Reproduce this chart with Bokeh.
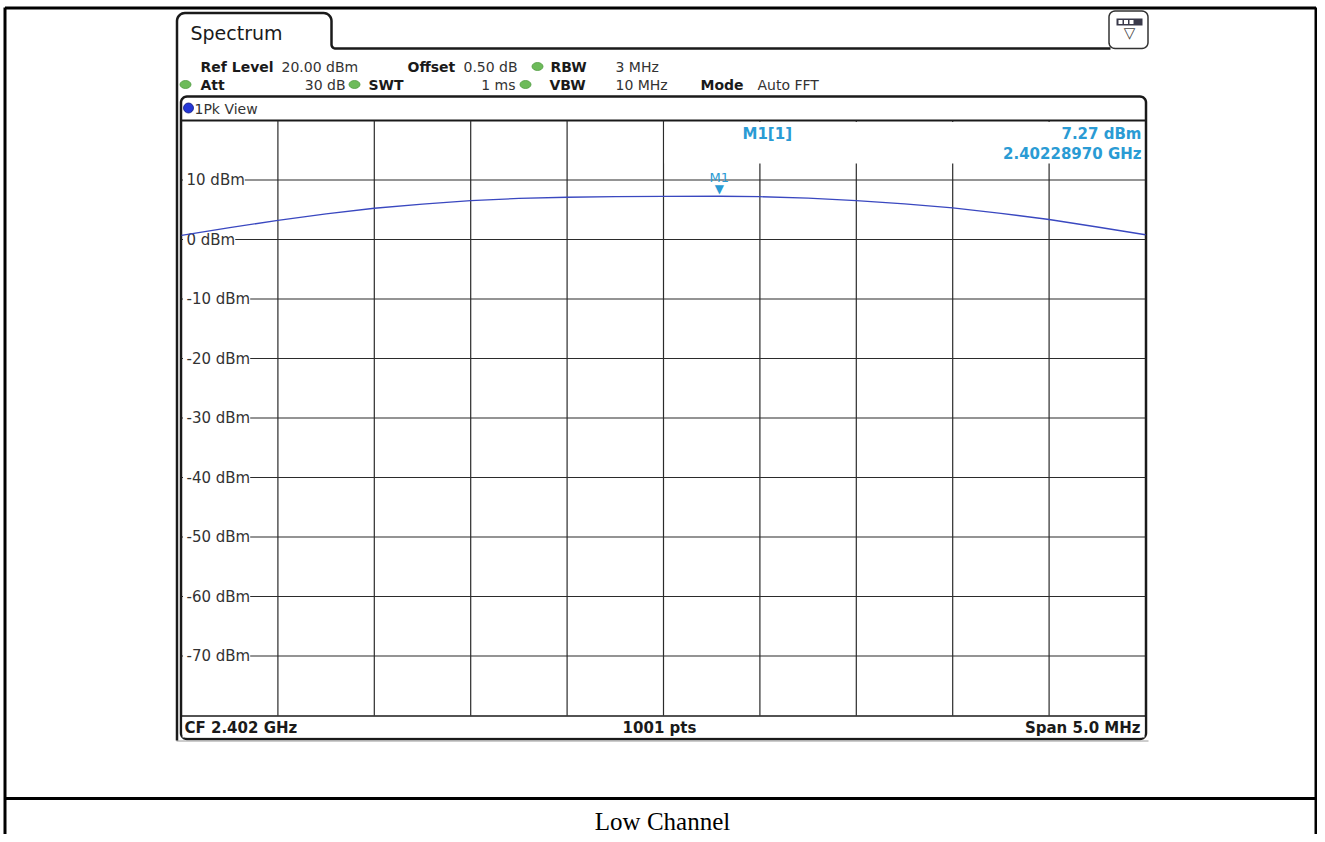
import numpy as np
from bokeh.plotting import figure
from bokeh.models import Range1d
from bokeh.embed import file_html
from bokeh.resources import INLINE
from bokeh.core.properties import value

# ---------------- data ----------------
freq_ghz = [2.39950, 2.39975, 2.40000, 2.40025, 2.40050, 2.40075, 2.40100,
            2.40125, 2.40150, 2.40175, 2.40200, 2.40228970, 2.40250, 2.40275,
            2.40300, 2.40325, 2.40350, 2.40375, 2.40400, 2.40425, 2.40450]
level_dbm = [0.7, 2.0, 3.2, 4.3, 5.25, 5.95, 6.55,
             6.9, 7.1, 7.2, 7.26, 7.27, 7.2, 6.95,
             6.55, 6.0, 5.3, 4.4, 3.36, 2.1, 0.8]
y_ticks = [10, 0, -10, -20, -30, -40, -50, -60, -70]
y_tick_labels = ["10 dBm", "0 dBm", "-10 dBm", "-20 dBm", "-30 dBm",
                 "-40 dBm", "-50 dBm", "-60 dBm", "-70 dBm"]
x_grid_ghz = [2.4000, 2.4005, 2.4010, 2.4015, 2.4020, 2.4025, 2.4030,
              2.4035, 2.4040]
f_start, f_stop = 2.3995, 2.4045
ref_level, bottom_level = 20, -80
marker_freq = 2.40228970
marker_level = 7.27

# ---------------- layout (image pixels) ----------------
W, H = 1317, 834
G_L, G_R, G_T, G_B = 181.0, 1145.0, 120.0, 715.0

gpp = (f_stop - f_start) / (G_R - G_L)
x_start = f_start - G_L * gpp
x_end = f_stop + (W - G_R) * gpp
dpp = (ref_level - bottom_level) / (G_B - G_T)
y_top = ref_level + G_T * dpp
y_bot = ref_level - (H - G_T) * dpp

p = figure(width=W, height=H, x_range=Range1d(x_start, x_end),
           y_range=Range1d(y_bot, y_top), output_backend="svg",
           toolbar_location=None, min_border=0,
           x_axis_location=None, y_axis_location=None)
p.grid.visible = False
p.outline_line_color = None
p.background_fill_color = "white"
p.border_fill_color = "white"
p.extra_x_ranges = {"px": Range1d(0, W)}
p.extra_y_ranges = {"py": Range1d(H, 0)}
PX = dict(x_range_name="px", y_range_name="py")

FONT = value("DejaVu Sans")
BLACK = "#1a1a1a"
MBLUE = "#2a9bd4"


def rounded(x0, y0, x1, y1, r, n=8):
    xs, ys = [], []
    corners = [(x1 - r, y0 + r, -90, 0), (x1 - r, y1 - r, 0, 90),
               (x0 + r, y1 - r, 90, 180), (x0 + r, y0 + r, 180, 270)]
    for cx, cy, a0, a1 in corners:
        for a in np.linspace(np.radians(a0), np.radians(a1), n):
            xs.append(cx + r * np.cos(a))
            ys.append(cy + r * np.sin(a))
    xs.append(xs[0]); ys.append(ys[0])
    return xs, ys


def arc(cx, cy, r, a0, a1, n=8):
    t = np.linspace(np.radians(a0), np.radians(a1), n)
    return list(cx + r * np.cos(t)), list(cy + r * np.sin(t))

# outer table border
p.multi_line(xs=[[4.5, 4.5], [1315.5, 1315.5], [4.5, 1315.5], [4.5, 1315.5]],
             ys=[[7, H], [7, H], [7.5, 7.5], [798, 798]],
             line_color="black", line_width=3, **PX)

# panel (1Pk View window)
px_, py_ = rounded(180.5, 96, 1145.5, 738.5, 6)
p.patch(px_, py_, fill_color="white", line_color=BLACK, line_width=2.5, **PX)
p.line([176, 1148], [740.5, 740.5], line_color="#9a9a9a", line_width=1, **PX)

# tab outline + header line
tx, ty = [176.5], [740]
ax, ay = arc(184.5, 20.5, 8, 180, 270); tx += ax; ty += ay
ax, ay = arc(323, 20.5, 8, 270, 360); tx += ax; ty += ay
ax, ay = arc(335, 44, 4, 180, 90); tx += ax; ty += ay
tx += [1110]; ty += [48]
p.line(tx, ty, line_color=BLACK, line_width=2.5, **PX)

# settings icon top-right
ix, iy = rounded(1108.5, 10.5, 1147.5, 48, 6)
p.patch(ix, iy, fill_color="white", line_color="#333333", line_width=1.5, **PX)
p.quad(left=[1116], right=[1142], top=[18], bottom=[25], fill_color="#3a3a4a",
       line_color=None, **PX)
p.quad(left=[1118, 1123.5, 1129], right=[1122, 1127.5, 1133], top=[19.5] * 3,
       bottom=[23.5] * 3, fill_color="white", line_color=None, **PX)
p.text(x=[1129], y=[32], text=["▽"], text_font=FONT, text_font_size="15px",
       text_align="center", text_baseline="middle", text_color="#444444", **PX)

# panel title bar / graticule top
p.line([180.5, 1145.5], [G_T, G_T], line_color=BLACK, line_width=1.8, **PX)

# gridlines (data coords)
p.segment(x0=x_grid_ghz, x1=x_grid_ghz, y0=[bottom_level] * len(x_grid_ghz),
          y1=[ref_level] * len(x_grid_ghz), line_color="#2b2b2b", line_width=1.2)
p.segment(x0=[f_start] * len(y_ticks), x1=[f_stop] * len(y_ticks), y0=y_ticks,
          y1=y_ticks, line_color="#2b2b2b", line_width=1.2)
# gap between the left border and each level label
p.segment(x0=[182.5] * len(y_ticks), x1=[187] * len(y_ticks), y0=y_ticks,
          y1=y_ticks, line_color="white", line_width=3, x_range_name="px")

# white box for marker info
p.quad(left=[664], right=[1143.5], top=[121.5], bottom=[163], fill_color="white",
       line_color=None, **PX)

# status bar
p.quad(left=[182], right=[1144], top=[716], bottom=[737], fill_color="white",
       line_color=None, **PX)
p.line([180.5, 1145.5], [715.5, 715.5], line_color=BLACK, line_width=1.5, **PX)

# y tick labels
p.text(x=[f_start] * len(y_ticks), y=y_ticks, text=y_tick_labels, x_offset=5,
       text_font=FONT, text_font_size="15px", text_color="#333333",
       text_baseline="middle", text_align="left", background_fill_color="white")

# trace
p.line(freq_ghz, level_dbm, line_color="#3a48c0", line_width=1.3)

# marker
p.text(x=[marker_freq], y=[marker_level], text=["▼"], text_font=FONT,
       text_font_size="12px", text_color=MBLUE, text_align="center",
       text_baseline="bottom", y_offset=0)
p.text(x=[marker_freq], y=[marker_level], text=["M1"], text_font=FONT,
       text_font_size="13px", text_color=MBLUE, text_align="center",
       text_baseline="middle", y_offset=-19)

# marker info
p.text(x=[742], y=[133], text=["M1[1]"], text_font=FONT, text_font_size="15px",
       text_font_style="bold", text_color=MBLUE, text_baseline="middle", **PX)
p.text(x=[1141, 1141], y=[133, 153], text=["7.27 dBm", "2.40228970 GHz"],
       text_font=FONT, text_font_size="15px", text_font_style="bold",
       text_color=MBLUE, text_baseline="middle", text_align="right", **PX)

# status bar texts
p.text(x=[184], y=[727], text=["CF 2.402 GHz"], text_font=FONT, text_font_size="15px",
       text_font_style="bold", text_color=BLACK, text_baseline="middle", **PX)
p.text(x=[659], y=[727], text=["1001 pts"], text_font=FONT, text_font_size="15px",
       text_font_style="bold", text_color=BLACK, text_baseline="middle",
       text_align="center", **PX)
p.text(x=[1140], y=[727], text=["Span 5.0 MHz"], text_font=FONT, text_font_size="15px",
       text_font_style="bold", text_color=BLACK, text_baseline="middle",
       text_align="right", **PX)

# header
p.text(x=[190], y=[32], text=["Spectrum"], text_font=FONT, text_font_size="19px",
       text_color=BLACK, text_baseline="middle", **PX)
R1, R2 = 66, 84
p.text(x=[200, 407, 550, 200, 368, 549, 700],
       y=[R1, R1, R1, R2, R2, R2, R2],
       text=["Ref Level", "Offset", "RBW", "Att", "SWT", "VBW", "Mode"],
       text_font=FONT, text_font_size="14px", text_font_style="bold",
       text_color=BLACK, text_baseline="middle", **PX)
p.text(x=[281, 463, 615, 615, 757], y=[R1, R1, R1, R2, R2],
       text=["20.00 dBm", "0.50 dB", "3 MHz", "10 MHz", "Auto FFT"],
       text_font=FONT, text_font_size="14px", text_color="#333333",
       text_baseline="middle", **PX)
p.text(x=[345, 515], y=[R2, R2], text=["30 dB", "1 ms"], text_font=FONT,
       text_font_size="14px", text_color="#333333", text_baseline="middle",
       text_align="right", **PX)
p.ellipse(x=[185, 537, 354, 525], y=[R2, R1, R2, R2], width=11, height=8,
          fill_color="#6dbb5a", line_color="#4f9a40", line_width=0.8, **PX)

# 1Pk View
p.ellipse(x=[188], y=[107.5], width=10, height=10, fill_color="#2436d6",
          line_color="#101a80", line_width=0.8, **PX)
p.text(x=[194], y=[108], text=["1Pk View"], text_font=FONT, text_font_size="14px",
       text_color="#333333", text_baseline="middle", **PX)

# caption
p.text(x=[662], y=[821], text=["Low Channel"], text_font=value("Liberation Serif"),
       text_font_size="25px", text_color="black", text_align="center",
       text_baseline="middle", **PX)

open("out.html", "w").write(file_html(p, INLINE))
